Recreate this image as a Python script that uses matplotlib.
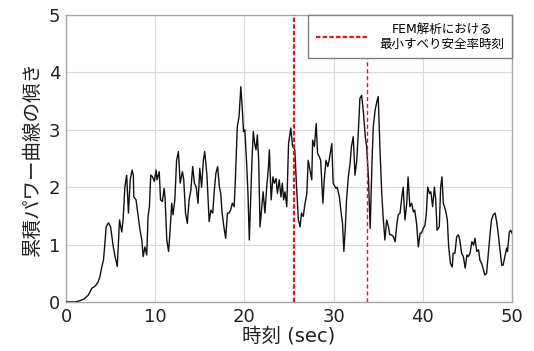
import matplotlib
matplotlib.use('Agg')
import matplotlib.pyplot as plt

plt.rcParams['font.family'] = ['DejaVu Sans', 'Noto Sans CJK JP']

# time (sec) and slope of cumulative power curve
T = [0.0, 1.0, 1.5, 2.0, 2.5, 2.9, 3.2, 3.4, 3.6, 3.8, 4.0, 4.2, 4.35, 4.5, 4.75,
     5.0, 5.3, 5.5, 5.75, 6.0, 6.25, 6.4, 6.6, 6.8, 7.0, 7.2, 7.4, 7.55, 7.6, 7.85,
     8.1, 8.3, 8.5, 8.65, 8.85, 9.05, 9.2, 9.35, 9.5, 9.7, 9.9, 10.1, 10.2, 10.45,
     10.6, 10.8, 11.0, 11.1, 11.3, 11.5, 11.65, 11.85, 12.0, 12.2, 12.4, 12.6, 12.8,
     13.05, 13.2, 13.4, 13.6, 13.8, 14.0, 14.2, 14.4, 14.6, 14.8, 15.0, 15.2, 15.4,
     15.55, 15.8, 15.95, 16.05, 16.25, 16.45, 16.6, 16.8, 17.0, 17.2, 17.35, 17.5,
     17.7, 17.9, 18.1, 18.3, 18.45, 18.65, 18.85, 19.0, 19.2, 19.4, 19.6, 19.75,
     19.9, 20.05, 20.25, 20.4, 20.55, 20.7, 20.85, 21.0, 21.15, 21.3, 21.45, 21.6,
     21.75, 21.95, 22.1, 22.3, 22.5, 22.7, 22.8, 23.0, 23.2, 23.35, 23.55, 23.7,
     23.9, 24.1, 24.25, 24.4, 24.55, 24.75, 24.95, 25.2, 25.4, 25.65, 25.85, 26.05,
     26.25, 26.4, 26.6, 26.8, 27.0, 27.15, 27.35, 27.55, 27.65, 27.85, 28.05, 28.2,
     28.4, 28.55, 28.8, 28.95, 29.15, 29.35, 29.5, 29.8, 29.95, 30.25, 30.4, 30.65,
     30.85, 31.0, 31.15, 31.3, 31.45, 31.65, 31.85, 32.0, 32.2, 32.4, 32.6, 32.8,
     32.95, 33.15, 33.35, 33.55, 33.7, 33.9, 34.1, 34.3, 34.45, 34.65, 34.85, 35.0,
     35.2, 35.4, 35.55, 35.75, 35.95, 36.15, 36.3, 36.5, 36.7, 36.9, 37.1, 37.25,
     37.45, 37.65, 37.8, 38.0, 38.2, 38.35, 38.55, 38.75, 38.95, 39.1, 39.3, 39.5,
     39.7, 39.85, 40.05, 40.25, 40.4, 40.55, 40.75, 40.9, 41.1, 41.3, 41.45, 41.6,
     41.85, 42.0, 42.15, 42.3, 42.55, 42.75, 42.9, 43.1, 43.3, 43.4, 43.6, 43.8,
     44.0, 44.15, 44.35, 44.55, 44.75, 44.95, 45.1, 45.3, 45.5, 45.7, 45.85, 46.05,
     46.25, 46.4, 46.6, 46.8, 46.95, 47.15, 47.35, 47.55, 47.7, 47.9, 48.1, 48.25,
     48.45, 48.65, 48.85, 49.0, 49.2, 49.4, 49.5, 49.7, 49.85, 50.0]
SLOPE = [0.0, 0.0, 0.02, 0.05, 0.12, 0.24, 0.27, 0.3, 0.35, 0.44, 0.6, 0.73, 1.0, 1.31, 1.38,
         1.31, 0.96, 0.79, 0.62, 1.43, 1.22, 1.43, 2.0, 2.21, 1.55, 2.13, 2.3, 2.21, 1.83, 1.78,
         1.49, 1.25, 1.08, 0.79, 0.96, 0.82, 1.49, 1.66, 2.21, 2.18, 2.1, 2.3, 2.13, 2.27,
         1.78, 1.75, 1.98, 1.83, 1.08, 0.88, 1.2, 1.72, 1.52, 1.78, 2.47, 2.62, 2.07,
         2.27, 2.13, 1.55, 1.37, 1.78, 1.95, 2.36, 2.07, 2.0, 1.72, 2.33, 2.0, 2.47,
         2.62, 2.21, 1.72, 1.4, 1.6, 1.55, 1.89, 2.24, 2.36, 2.0, 1.89, 1.55,
         1.31, 1.11, 1.55, 1.55, 1.6, 1.72, 1.66, 2.18, 3.05, 3.23, 3.75, 3.4,
         2.97, 3.0, 2.42, 1.89, 1.08, 1.78, 2.47, 2.97, 2.76, 2.65, 2.91, 2.47,
         1.31, 1.66, 1.92, 1.55, 2.0, 2.36, 2.65, 1.78, 2.18, 2.07, 2.15, 1.89,
         2.13, 1.83, 2.07, 1.78, 1.92, 1.66, 2.76, 3.03, 2.71, 2.65, 2.0, 1.43,
         1.31, 1.55, 1.49, 1.72, 1.89, 2.47, 2.3, 2.13, 2.82, 2.71, 3.11, 2.59,
         2.53, 2.47, 1.72, 2.13, 2.47, 2.36, 2.47, 2.76, 2.07, 1.98, 2.0, 1.83,
         1.55, 1.37, 0.88, 1.25, 1.78, 2.18, 2.42, 2.71, 2.88, 2.21, 2.47, 3.05,
         3.55, 3.6, 3.29, 2.88, 2.71, 2.18, 1.28, 2.42, 3.05, 3.34, 3.49, 3.58,
         2.65, 1.89, 1.49, 1.08, 1.43, 1.31, 1.17, 1.17, 1.14, 1.05, 1.37, 1.52,
         1.55, 1.83, 2.0, 1.43, 1.72, 2.18, 1.66, 1.72, 1.57, 1.6, 1.37, 0.96,
         1.2, 1.2, 1.28, 1.34, 1.55, 2.0, 1.89, 1.92, 1.66, 2.0, 1.78, 1.25,
         1.31, 2.0, 2.18, 1.72, 1.6, 1.43, 0.96, 0.67, 0.61, 0.85, 0.85, 1.14,
         1.17, 1.08, 0.85, 0.79, 0.59, 0.82, 0.79, 0.85, 1.05, 0.99, 1.11, 0.88,
         0.91, 0.73, 0.67, 0.56, 0.47, 0.5, 0.85, 1.2, 1.43, 1.52, 1.55, 1.43,
         1.2, 0.91, 0.64, 0.64, 0.79, 0.94, 0.88, 1.22, 1.25, 1.2]

FEM_TIMES = [25.6, 33.75]
FEM_WIDTHS = [1.6, 1.0]
LEGEND_LABEL = 'FEM解析における\n最小すべり安全率時刻'

RED = '#e8141c'
GRID = '#d9d9d9'
SPINE = '#a6a6a6'

fig = plt.figure(figsize=(5.34, 3.51), dpi=100)
ax = fig.add_axes([0.1236, 0.1396, 0.8352, 0.8177])

ax.plot(T, SLOPE, color='#111111', linewidth=1.0, zorder=3)
for i, (xt, lw) in enumerate(zip(FEM_TIMES, FEM_WIDTHS)):
    ax.axvline(xt, color=RED, linewidth=lw, linestyle=(0, (2, 1)) if i == 0 else (0, (3, 2)),
               label=LEGEND_LABEL if i == 0 else None, zorder=4)

ax.set_xlim(0, 50)
ax.set_ylim(0, 5)
ax.set_xticks(range(0, 51, 10))
ax.set_yticks(range(0, 6))
ax.grid(True, color=GRID, linewidth=0.8)
ax.set_axisbelow(True)
for s in ax.spines.values():
    s.set_color(SPINE)
    s.set_linewidth(1.0)
ax.tick_params(length=0, labelsize=13, pad=4, colors='#222222')

ax.set_xlabel('時刻 (sec)', fontsize=14, labelpad=1, color='#222222')
ax.set_ylabel('累積パワー曲線の傾き', fontsize=14, labelpad=5, color='#222222')

leg = ax.legend(loc='upper right', bbox_to_anchor=(1.0, 1.0), borderaxespad=0.0,
                fontsize=9, handlelength=4.3, fancybox=False, framealpha=1.0,
                edgecolor='#808080', borderpad=0.6)
leg.get_frame().set_linewidth(1.0)
for txt in leg.get_texts():
    txt.set_multialignment('center')
leg.get_lines()[0].set_linewidth(1.6)

fig.savefig('out.png', dpi=100)
